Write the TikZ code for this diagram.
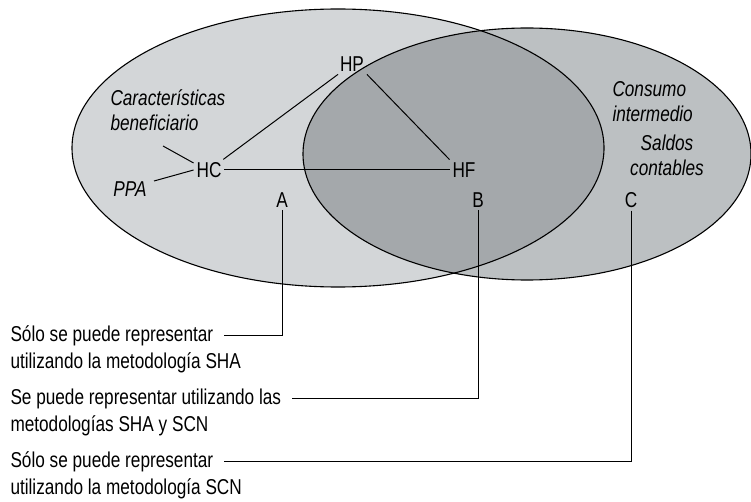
\documentclass[tikz,border=0pt]{standalone}
\usepackage{fontspec}
\setmainfont{Liberation Sans}[FakeStretch=0.8]
\usetikzlibrary{positioning}
\definecolor{leftgray}{RGB}{211,214,216}
\definecolor{rightgray}{RGB}{188,192,194}
\definecolor{bothgray}{RGB}{164,168,171}

\begin{document}
\begin{tikzpicture}[x=1pt,y=-1pt,line width=1pt]
	\tikzset{lbl/.style = {inner sep=2.5pt, font=\fontsize{21.5}{27}\selectfont},
		itl/.style = {inner sep=0pt, font=\fontsize{21.5}{25}\selectfont\itshape},
		txt/.style = {inner sep=0pt, anchor=base west, font=\fontsize{21.5}{27}\selectfont}}
	\useasboundingbox (0,0) rectangle (751,502);
	\fill[leftgray] (338,148) ellipse [x radius=266, y radius=139];
	\fill[rightgray] (527,154) ellipse [x radius=224, y radius=126];
	\begin{scope}
		\clip (338,148) ellipse [x radius=266, y radius=139];
		\fill[bothgray] (527,154) ellipse [x radius=224, y radius=126];
	\end{scope}
	\draw[line width=1.1pt] (338,148) ellipse [x radius=266, y radius=139];
	\draw[line width=1.1pt] (527,154) ellipse [x radius=224, y radius=126];
	
	\node[lbl] (HP) at (352,64) {HP};
	\node[lbl] (HC) at (209,170) {HC};
	\node[lbl] (HF) at (464,170) {HF};
	\node[lbl] (A) at (282,200) {A};
	\node[lbl] (B) at (478,200) {B};
	\node[lbl] (C) at (631,200) {C};
	
	\node[itl, anchor=north west, align=left] (carac) at (110,89) {Características\\beneficiario};
	\node[itl] (ppa) at (130,189) {PPA};
	\node[itl, anchor=north west, align=left] (consumo) at (612,81) {Consumo\\intermedio};
	\node[itl, anchor=north, align=center] (saldos) at (667,134.5) {Saldos\\contables};
	
	\coordinate (caracend) at (163,146);
	\coordinate (ppaend) at (154,181);
	
	\draw (HC) -- (HP);
	\draw (HP.south east) -- (HF.north west);
	\draw (HC) -- (HF);
	\draw (caracend) -- ([yshift=7pt]HC.west);
	\draw (ppaend) -- (HC.west);
	
	\node[txt] (sha) at (10,341) {Sólo se puede representar};
	\node[txt, below=27pt of sha.base west, anchor=base west] (shab) {utilizando la metodología SHA};
	\node[txt] (ambas) at (10,404) {Se puede representar utilizando las};
	\node[txt, below=27pt of ambas.base west, anchor=base west] (ambasb) {metodologías SHA y SCN};
	\node[txt] (scn) at (10,467) {Sólo se puede representar};
	\node[txt, below=27pt of scn.base west, anchor=base west] (scnb) {utilizando la metodología SCN};
	
	\draw (A) |- ([xshift=10pt]sha.east);
	\draw (B) |- ([xshift=10pt]ambas.east);
	\draw (C) |- ([xshift=10pt]scn.east);
\end{tikzpicture}
\end{document}
